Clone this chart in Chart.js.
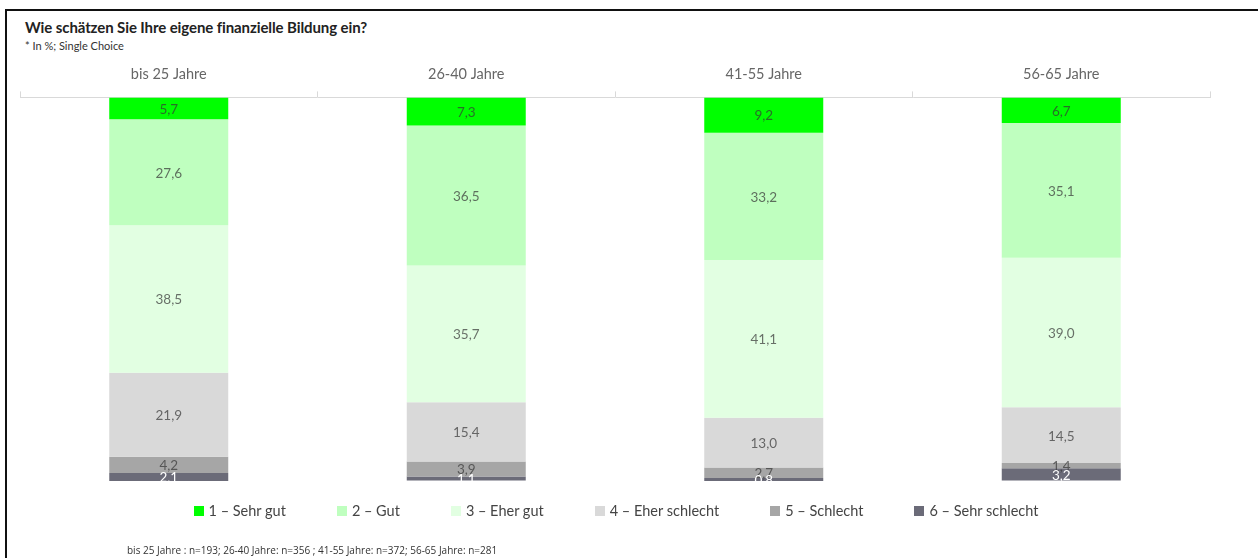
<!DOCTYPE html>
<html lang="de">
<head>
<meta charset="UTF-8">
<title>Finanzielle Bildung</title>
<script src="https://cdn.jsdelivr.net/npm/chart.js"></script>
<style>
    body { margin: 0; background: #fff; font-family: Lato, "Open Sans", sans-serif; }
    .wrap { position: relative; width: 1258px; height: 558px; overflow: hidden; }
    .frame { position: absolute; left: 5px; top: 9px; width: 1270px; height: 570px; border: 2px solid #111; box-sizing: border-box; }
    .title { position: absolute; left: 25px; top: 18px; font-size: 15px; font-weight: bold; color: #222; letter-spacing: -0.1px; }
    .sub { position: absolute; left: 25px; top: 39px; font-size: 11px; color: #333; }
    .note { position: absolute; left: 127px; top: 543px; font-size: 10px; color: #333; font-family: "Open Sans", sans-serif; }
    #legend { position: absolute; left: 0; width: 1232px; top: 502px; display: flex; justify-content: center; gap: 51px; font-size: 14.5px; color: #444; }
    #legend span.item { display: flex; align-items: center; }
    #legend i { display: inline-block; width: 10px; height: 10px; margin-right: 5px; }
    canvas { position: absolute; left: 0; top: 0; }
</style>
</head>
<body>
<div class="wrap">
    <div class="frame"></div>
    <div class="title">Wie schätzen Sie Ihre eigene finanzielle Bildung ein?</div>
    <div class="sub">* In %; Single Choice</div>
    <canvas id="chart" width="1258" height="558"></canvas>
    <div id="legend"></div>
    <div class="note">bis 25 Jahre : n=193; 26-40 Jahre: n=356 ; 41-55 Jahre: n=372; 56-65 Jahre: n=281</div>
</div>

<script>
    // age groups
    let categories = ["bis 25 Jahre", "26-40 Jahre", "41-55 Jahre", "56-65 Jahre"];

    // answers, top of bar to bottom
    let answerLabels = ["1 – Sehr gut", "2 – Gut", "3 – Eher gut", "4 – Eher schlecht", "5 – Schlecht", "6 – Sehr schlecht"];
    let sehrGut = [5.7, 7.3, 9.2, 6.7];
    let gut = [27.6, 36.5, 33.2, 35.1];
    let eherGut = [38.5, 35.7, 41.1, 39.0];
    let eherSchlecht = [21.9, 15.4, 13.0, 14.5];
    let schlecht = [4.2, 3.9, 2.7, 1.4];
    let sehrSchlecht = [2.1, 1.1, 0.8, 3.2];

    let seriesValues = [sehrGut, gut, eherGut, eherSchlecht, schlecht, sehrSchlecht];
    let colors = ["#00ff00", "#bfffbf", "#e2ffe2", "#d9d9d9", "#a6a6a6", "#6b6b78"];

    // values inside the segments
    const valueLabels = {
        id: "valueLabels",
        afterDatasetsDraw(chart) {
            let ctx = chart.ctx;
            ctx.save();
            ctx.font = "13.5px Lato, sans-serif";
            ctx.textAlign = "center";
            ctx.textBaseline = "middle";
            chart.data.datasets.forEach((ds, i) => {
                chart.getDatasetMeta(i).data.forEach((bar, j) => {
                    let p = bar.getProps(["x", "y", "base"], true);
                    ctx.fillStyle = i === 5 ? "#ffffff" : "rgba(55,55,55,0.72)";
                    ctx.fillText(ds.data[j].toFixed(1).replace(".", ","), p.x, (p.y + p.base) / 2 + 1);
                });
            });
            ctx.restore();
        }
    };

    let datasets = answerLabels.map((label, i) => ({
        label: label,
        data: seriesValues[i],
        backgroundColor: colors[i],
        borderWidth: 0,
        barPercentage: 0.8,
        categoryPercentage: 0.5
    }));

    new Chart(document.getElementById("chart"), {
        type: "bar",
        data: { labels: categories, datasets: datasets },
        options: {
            responsive: false,
            animation: false,
            layout: { padding: { left: 20, right: 48, top: 58, bottom: 77 } },
            plugins: {
                legend: { display: false },
                tooltip: { enabled: false }
            },
            scales: {
                x: {
                    position: "top",
                    stacked: true,
                    offset: true,
                    border: { color: "#d9d9d9", width: 1 },
                    grid: { offset: true, drawOnChartArea: false, drawTicks: true, tickLength: 6, color: "#d9d9d9" },
                    ticks: { color: "#666", padding: 8, font: { family: "Lato", size: 14.5 } }
                },
                y: {
                    stacked: true,
                    reverse: true,
                    min: 0,
                    max: 100,
                    display: false
                }
            }
        },
        plugins: [valueLabels]
    });

    let legend = document.getElementById("legend");
    answerLabels.forEach((label, i) => {
        let item = document.createElement("span");
        item.className = "item";
        item.innerHTML = '<i style="background:' + colors[i] + '"></i>' + label;
        legend.appendChild(item);
    });
</script>
</body>
</html>
